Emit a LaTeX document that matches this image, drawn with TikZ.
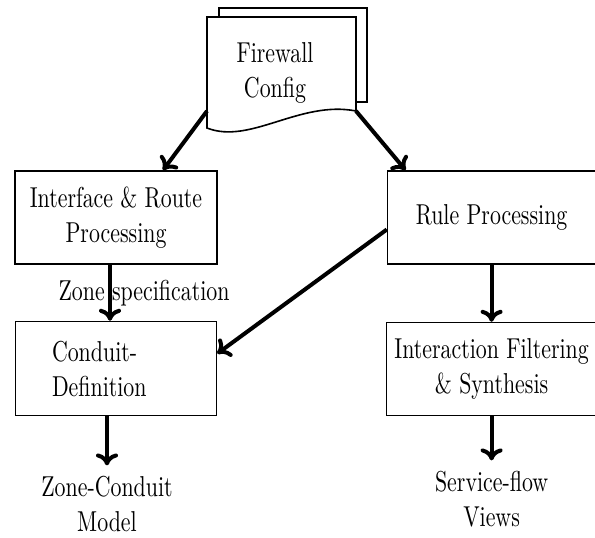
\documentclass[tikz,border=0pt]{standalone}
\usepackage{fontspec}
\setmainfont{lmroman10-regular.otf}[FakeStretch=0.76]
\usetikzlibrary{arrows.meta, positioning, backgrounds}

\begin{document}
\begin{tikzpicture}[
    % Global Styles
    x=0.5pt, y=-0.5pt,
    font=\fontsize{14.4}{17.5}\selectfont,
    % Styles for the component types
    block/.style={
        rectangle,
        draw=black,
        fill=white,
        line width=0.8pt,
        minimum height=46.5pt,
        align=center
    },
    sheet/.style={
        draw=black,
        fill=white,
        line width=0.8pt
    },
    result/.style={
        inner sep=5pt,
        align=center
    },
    % Connector line style
    conn/.style={
        draw=black,
        -{To[length=6pt,width=11pt]},
        line width=2pt
    }
]
    \useasboundingbox (0,0) rectangle (595,537);

    % --- Nodes ---

    % 1. Input document
    \node[align=center] (cfg) at (275,73) {Firewall\\Config};

    % 2. Processing stages
    \node[block, minimum width=101pt] (iface) at (116,217.5) {Interface \& Route\\Processing};
    \node[block, minimum width=104pt, right=84.5pt of iface] (rule) {Rule Processing};

    % 3. Model building
    \node[block, minimum width=100.5pt, minimum height=47pt, text width=64pt, align=left, below=28pt of iface] (cond) {Conduit-\\Definition};
    \node[block, minimum width=105pt, below=28.5pt of rule] (inter) {Interaction Filtering\\\& Synthesis};

    % 4. Outputs
    \node[result, below=24.5pt of cond, xshift=-4.5pt] (zcm) {Zone-Conduit\\Model};
    \node[result, below=22pt of inter] (svc) {Service-flow\\Views};

    % Document sheets (behind the text)
    \begin{scope}[on background layer]
        \draw[sheet] ([shift={(-56,-65)}]cfg.center) rectangle ([shift={(92,29)}]cfg.center);
        \draw[sheet] ([shift={(81,38)}]cfg.center) -- ([shift={(81,-56)}]cfg.center)
            -- ([shift={(-68,-56)}]cfg.center) -- ([shift={(-68,55)}]cfg.center)
            .. controls ([shift={(-25,72)}]cfg.center) and ([shift={(25,27)}]cfg.center)
            .. ([shift={(81,38)}]cfg.center);
    \end{scope}

    % --- Edges ---

    % Config -> Interface
    \draw[conn] ([shift={(-68,38)}]cfg.center) -- ([shift={(47,0)}]iface.north);

    % Config -> Rules
    \draw[conn] ([shift={(81,38)}]cfg.center) -- ([shift={(-86,0)}]rule.north);

    % Interface -> Conduit
    \draw[conn] ([shift={(-6,0)}]iface.south) -- ([shift={(-6,0)}]cond.north)
        node[midway, xshift=17pt] (zspec) {Zone specification};

    % Rules -> Conduit
    \draw[conn] ([shift={(0,12)}]rule.west) -- ([shift={(0,-15)}]cond.east);

    % Rules -> Interaction
    \draw[conn] (rule) -- (inter);

    % Conduit -> Model
    \draw[conn] (zcm.north |- cond.south) -- (zcm.north);

    % Interaction -> Views
    \draw[conn] (svc.north |- inter.south) -- (svc.north);

\end{tikzpicture}
\end{document}
